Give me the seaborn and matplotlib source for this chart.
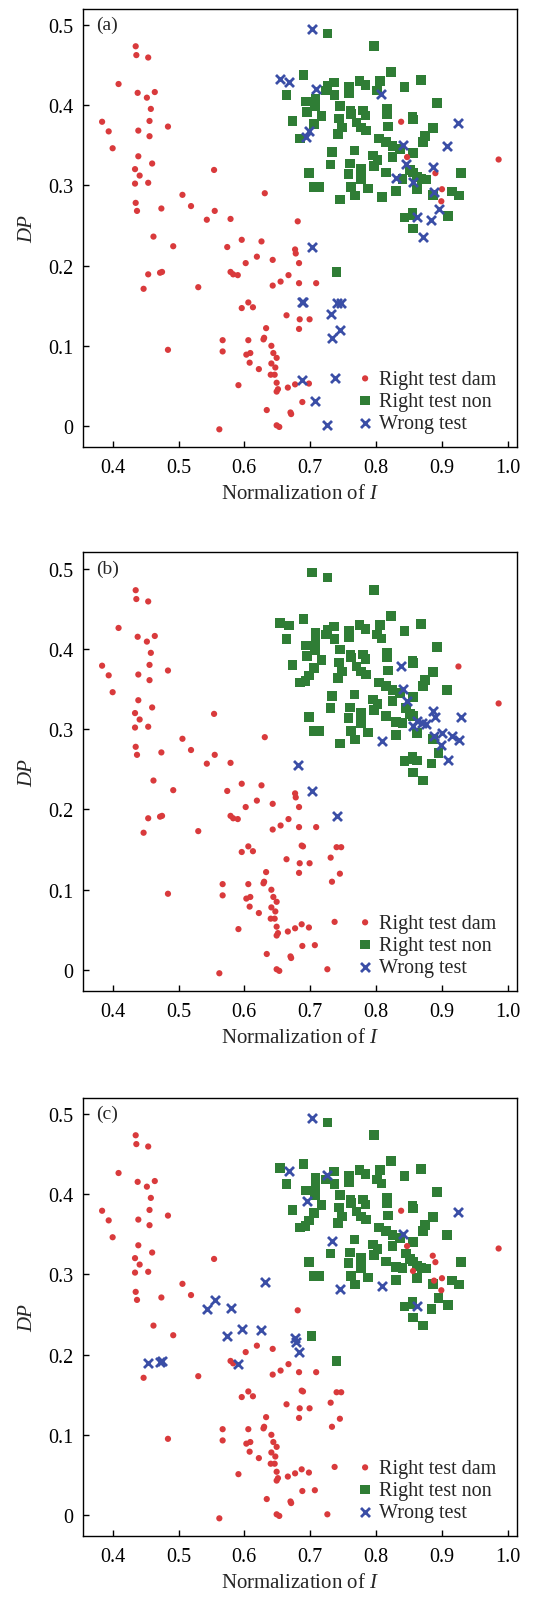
import numpy as np
import pandas as pd
import matplotlib
matplotlib.use("Agg")
import matplotlib.pyplot as plt
import seaborn as sns

# damaged samples: x, y, panels in which the test got it wrong
dam_x = [0.384, 0.394, 0.400, 0.409, 0.435, 0.436, 0.454, 0.438, 0.452, 0.464,
         0.458, 0.456, 0.484, 0.439, 0.456, 0.439, 0.460, 0.434, 0.441, 0.434,
         0.454, 0.435, 0.437, 0.474, 0.462, 0.492, 0.454, 0.472, 0.475, 0.447,
         0.484, 0.554, 0.506, 0.519, 0.555, 0.543, 0.530, 0.579, 0.631, 0.596,
         0.574, 0.626, 0.602, 0.619, 0.579, 0.583, 0.590, 0.643, 0.681, 0.677,
         0.678, 0.683, 0.683, 0.667, 0.655, 0.643, 0.709, 0.606, 0.613, 0.596,
         0.664, 0.684, 0.699, 0.683, 0.633, 0.630, 0.629, 0.567, 0.567, 0.606,
         0.603, 0.609, 0.608, 0.622, 0.641, 0.644, 0.649, 0.641, 0.647, 0.640,
         0.646, 0.649, 0.651, 0.649, 0.666, 0.677, 0.698, 0.591, 0.634, 0.670,
         0.671, 0.688, 0.649, 0.653, 0.562, 0.986, 0.838, 0.847, 0.890, 0.900,
         0.899, 0.888, 0.856, 0.886,
         0.687, 0.689, 0.731, 0.740, 0.747, 0.745, 0.733, 0.737, 0.687, 0.707,
         0.726, 0.925]
dam_y = [0.379, 0.367, 0.346, 0.426, 0.473, 0.462, 0.459, 0.415, 0.409, 0.416,
         0.395, 0.380, 0.373, 0.368, 0.361, 0.336, 0.327, 0.320, 0.312, 0.302,
         0.303, 0.278, 0.268, 0.271, 0.236, 0.224, 0.189, 0.191, 0.192, 0.171,
         0.095, 0.319, 0.288, 0.274, 0.268, 0.257, 0.173, 0.258, 0.290, 0.232,
         0.223, 0.230, 0.203, 0.211, 0.192, 0.189, 0.188, 0.207, 0.255, 0.220,
         0.215, 0.203, 0.178, 0.188, 0.180, 0.175, 0.178, 0.154, 0.148, 0.147,
         0.138, 0.133, 0.133, 0.121, 0.122, 0.110, 0.108, 0.107, 0.093, 0.107,
         0.089, 0.091, 0.079, 0.071, 0.100, 0.091, 0.085, 0.078, 0.073, 0.064,
         0.064, 0.054, 0.046, 0.043, 0.048, 0.052, 0.053, 0.051, 0.020, 0.017,
         0.015, 0.030, 0.001, -0.001, -0.004, 0.332, 0.379, 0.335, 0.315, 0.295,
         0.280, 0.292, 0.304, 0.323,
         0.155, 0.154, 0.140, 0.153, 0.153, 0.120, 0.110, 0.060, 0.057, 0.031,
         0.001, 0.378]
dam_wrong = ["", "", "", "", "", "", "", "", "", "",
             "", "", "", "", "", "", "", "", "", "",
             "", "", "", "", "", "", "c", "c", "c", "",
             "", "", "", "", "c", "c", "", "c", "c", "c",
             "c", "c", "", "", "", "", "c", "", "b", "c",
             "c", "c", "", "", "", "", "", "", "", "",
             "", "", "", "", "", "", "", "", "", "",
             "", "", "", "", "", "", "", "", "", "",
             "", "", "", "", "", "", "", "", "", "",
             "", "", "", "", "", "", "b", "b", "b", "b",
             "b", "ab", "ab", "ab",
             "a", "a", "a", "a", "a", "a", "a", "a", "a", "a",
             "a", "ac"]

# non-damaged samples
non_x = [0.726, 0.797, 0.690, 0.664, 0.673, 0.684, 0.695, 0.694, 0.708, 0.707,
         0.706, 0.717, 0.726, 0.736, 0.723, 0.737, 0.745, 0.744, 0.748, 0.742,
         0.759, 0.759, 0.775, 0.784, 0.761, 0.762, 0.770, 0.780, 0.784, 0.777,
         0.785, 0.806, 0.801, 0.823, 0.843, 0.868, 0.892, 0.817, 0.817, 0.818,
         0.855, 0.856, 0.886, 0.874, 0.871, 0.804, 0.815, 0.825, 0.836, 0.733,
         0.767, 0.795, 0.802, 0.797, 0.825, 0.856, 0.731, 0.760, 0.777, 0.758,
         0.777, 0.698, 0.706, 0.714, 0.762, 0.768, 0.788, 0.745, 0.809, 0.815,
         0.830, 0.840, 0.851, 0.856, 0.862, 0.869, 0.862, 0.855, 0.855, 0.843,
         0.856, 0.886, 0.915, 0.926, 0.929, 0.909, 0.740, 0.876,
         0.703, 0.654, 0.668, 0.708, 0.808, 0.698, 0.693, 0.841, 0.908, 0.845,
         0.830, 0.895, 0.862, 0.884, 0.871, 0.702]
non_y = [0.489, 0.473, 0.437, 0.412, 0.380, 0.358, 0.391, 0.404, 0.407, 0.398,
         0.376, 0.386, 0.424, 0.428, 0.418, 0.412, 0.399, 0.383, 0.372, 0.364,
         0.423, 0.414, 0.430, 0.425, 0.393, 0.389, 0.378, 0.393, 0.387, 0.372,
         0.368, 0.430, 0.418, 0.441, 0.422, 0.431, 0.402, 0.395, 0.389, 0.373,
         0.385, 0.382, 0.371, 0.361, 0.354, 0.358, 0.354, 0.349, 0.345, 0.341,
         0.343, 0.337, 0.331, 0.324, 0.335, 0.340, 0.326, 0.327, 0.320, 0.314,
         0.308, 0.315, 0.298, 0.298, 0.298, 0.287, 0.296, 0.282, 0.285, 0.316,
         0.293, 0.308, 0.319, 0.316, 0.310, 0.308, 0.295, 0.266, 0.263, 0.260,
         0.246, 0.288, 0.292, 0.287, 0.315, 0.262, 0.192, 0.307,
         0.495, 0.432, 0.429, 0.420, 0.413, 0.367, 0.360, 0.350, 0.349, 0.326,
         0.309, 0.270, 0.261, 0.257, 0.236, 0.223]
non_wrong = ["", "", "", "", "", "", "c", "", "", "",
             "", "", "c", "", "", "", "", "", "", "",
             "", "", "", "", "", "", "", "", "", "",
             "", "", "", "", "", "", "", "", "", "",
             "", "", "", "", "", "", "", "", "", "c",
             "", "", "", "", "", "", "", "", "", "",
             "", "", "", "", "", "", "", "c", "bc", "",
             "", "", "", "", "b", "b", "", "", "", "",
             "", "", "b", "b", "b", "b", "b", "b",
             "ac", "a", "ac", "a", "a", "a", "a", "abc", "a", "a",
             "a", "a", "ac", "a", "a", "ab"]

panels = ["a", "b", "c"]
labels = ["Right test dam", "Right test non", "Wrong test"]

rows = []
for p in panels:
    for x, y, w in zip(dam_x, dam_y, dam_wrong):
        rows.append((p, x, y, labels[2] if p in w else labels[0]))
    for x, y, w in zip(non_x, non_y, non_wrong):
        rows.append((p, x, y, labels[2] if p in w else labels[1]))
df = pd.DataFrame(rows, columns=["panel", "I", "DP", "result"])

sns.set_theme(style="ticks")
plt.rcParams['font.family'] = ['Liberation Serif', 'DejaVu Serif']
plt.rcParams['mathtext.fontset'] = 'custom'
plt.rcParams['mathtext.rm'] = 'Liberation Serif'
plt.rcParams['mathtext.it'] = 'Liberation Serif:italic'

colors = {labels[0]: "#d93a3c", labels[1]: "#2f7d35", labels[2]: "#3a4ea6"}

fig = plt.figure(figsize=(5.46, 16.15), dpi=100)
bottoms = [0.7226, 0.3858, 0.0483]

for p, b in zip(panels, bottoms):
    ax = fig.add_axes([0.152, b, 0.795, 0.2715])
    d = df[df.panel == p]
    sns.scatterplot(data=d[d.result == labels[0]], x="I", y="DP", ax=ax,
                    color=colors[labels[0]], marker="o", s=20, edgecolor="none",
                    label=labels[0], zorder=3)
    sns.scatterplot(data=d[d.result == labels[1]], x="I", y="DP", ax=ax,
                    color=colors[labels[1]], marker="s", s=48, edgecolor="none",
                    label=labels[1], zorder=2)
    sns.scatterplot(data=d[d.result == labels[2]], x="I", y="DP", ax=ax,
                    color=colors[labels[2]], marker="x", s=42, linewidth=2.0,
                    label=labels[2], zorder=4)
    ax.set_xlim(0.355, 1.014)
    ax.set_ylim(-0.026, 0.52)
    ax.set_xticks([0.4, 0.5, 0.6, 0.7, 0.8, 0.9, 1.0])
    ax.set_xticklabels(["0.4", "0.5", "0.6", "0.7", "0.8", "0.9", "1.0"])
    ax.set_yticks([0, 0.1, 0.2, 0.3, 0.4, 0.5])
    ax.set_yticklabels(["0", "0.1", "0.2", "0.3", "0.4", "0.5"])
    ax.tick_params(direction="in", length=4, width=1, labelsize=14.5, pad=7,
                   colors="black")
    ax.tick_params(axis="x", pad=8)
    for sp in ax.spines.values():
        sp.set_linewidth(1.0)
        sp.set_color("black")
    ax.set_xlabel("Normalization of $I$", fontsize=15, labelpad=5)
    ax.set_ylabel("DP", fontsize=15, fontstyle="italic", labelpad=8)
    ax.text(0.03, 0.963, "(%s)" % p, transform=ax.transAxes, fontsize=14,
            va="center", ha="left")
    ax.legend(loc="lower right", bbox_to_anchor=(0.985, 0.0), frameon=False,
              fontsize=14.5, handletextpad=0.1, labelspacing=0.15, borderpad=0.2,
              handlelength=1.2)

fig.savefig("out.png", dpi=100)
